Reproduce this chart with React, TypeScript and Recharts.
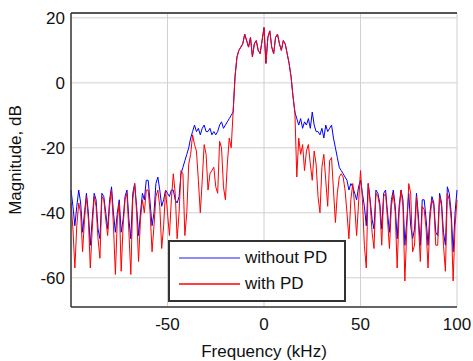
import { CartesianGrid, Line, LineChart, ReferenceLine, XAxis, YAxis } from "recharts"

// frequency grid, kHz
const freqKHz = Array.from({ length: 201 }, (_, i) => i - 100)

// magnitude in dB at 1 kHz steps (-100 .. 100)
const withoutPD = [
  -33, -38, -44, -38, -33, -37, -46, -40, -34, -40,
  -50, -42, -34, -36, -45, -48, -34, -35, -40, -45,
  -36, -32, -40, -46, -40, -36, -46, -42, -35, -33,
  -42, -48, -34, -31, -38, -47, -40, -34, -36, -30,
  -30, -37, -44, -40, -31, -29, -33, -38, -36, -33,
  -34, -35, -33, -33, -36, -37, -35, -28, -26, -24,
  -22, -20, -17, -15, -13, -15, -14, -16, -14, -13,
  -15, -15, -14, -16, -15, -16, -15, -13, -12, -14,
  -13, -12, -11, -10, -9, 2, 8, 10, 11, 12,
  15, 13, 11, 14, 8, 12, 13, 10, 9, 13,
  17, 6, 14, 16, 11, 9, 14, 15, 12, 10,
  13, 12, 9, 6, 2, -4, -9, -11, -13, -11,
  -14, -12, -13, -11, -14, -9, -13, -15, -15, -16,
  -14, -17, -13, -15, -14, -13, -17, -20, -23, -26,
  -27, -28, -29, -30, -33, -31, -32, -34, -36, -32,
  -30, -34, -38, -44, -31, -36, -42, -45, -33, -34,
  -37, -45, -34, -33, -40, -46, -36, -33, -38, -48,
  -38, -33, -36, -50, -42, -34, -44, -48, -45, -34,
  -41, -50, -36, -36, -42, -50, -40, -35, -37, -46,
  -47, -34, -37, -46, -50, -32, -34, -40, -52, -40,
  -33,
]

const withPD = [
  -37, -45, -57, -44, -37, -40, -52, -42, -35, -42,
  -57, -45, -35, -38, -48, -54, -35, -36, -42, -47,
  -38, -33, -44, -59, -42, -37, -58, -44, -36, -34,
  -46, -59, -36, -31, -40, -55, -42, -36, -40, -33,
  -33, -40, -52, -44, -35, -33, -38, -51, -44, -33,
  -40, -47, -36, -28, -34, -48, -40, -27, -28, -47,
  -40, -25, -22, -16, -19, -21, -30, -40, -30, -19,
  -22, -33, -28, -27, -26, -32, -34, -18, -20, -32,
  -36, -25, -17, -20, -9, 2, 8, 10, 11, 12,
  15, 13, 11, 14, 8, 12, 13, 10, 9, 13,
  17, 6, 14, 16, 11, 9, 14, 15, 12, 10,
  13, 12, 9, 6, 2, -4, -9, -29, -17, -22,
  -19, -27, -21, -19, -25, -30, -21, -25, -35, -40,
  -26, -22, -30, -38, -24, -23, -33, -43, -34, -29,
  -28, -29, -33, -40, -48, -36, -31, -38, -47, -37,
  -27, -36, -50, -57, -31, -37, -46, -51, -34, -35,
  -38, -50, -35, -34, -42, -51, -38, -34, -40, -57,
  -40, -33, -38, -61, -45, -31, -34, -52, -50, -35,
  -43, -55, -38, -39, -45, -57, -42, -36, -38, -50,
  -50, -35, -38, -50, -58, -34, -36, -42, -61, -44,
  -36,
]

const xTicks = [-100, -50, 0, 50, 100]
const yTicks = [-60, -40, -20, 0, 20]

const series = [
  { key: "noPD", name: "without PD", color: "#0000ff" },
  { key: "pd", name: "with PD", color: "#ff0000" },
]

const data = freqKHz.map((f, i) => ({ f, noPD: withoutPD[i], pd: withPD[i] }))

const font = "'Liberation Sans', Arial, sans-serif"
const Y_MIN = -69
const Y_MAX = 21.5

export default function App() {
  return (
    <div style={{ position: "absolute", left: 0, top: 0, width: 473, height: 361, background: "#fff", fontFamily: font }}>
      <LineChart width={473} height={361} data={data} margin={{ top: 13, right: 16, left: 0, bottom: 0 }}>
        <CartesianGrid stroke="#d0d0d0" strokeWidth={1} />
        <XAxis
          dataKey="f"
          type="number"
          domain={[-100, 100]}
          ticks={xTicks}
          tickFormatter={(v) => (v === -100 ? "" : `${v}`)}
          height={54}
          tickLine={false}
          tickSize={0}
          tickMargin={11}
          stroke="#3a3a3a"
          strokeWidth={1.5}
          tick={{ fill: "#111", fontSize: 17, fontFamily: font }}
          label={{ value: "Frequency (kHz)", position: "insideBottom", offset: 4, fill: "#111", fontSize: 17, fontFamily: font }}
        />
        <YAxis
          type="number"
          domain={[Y_MIN, Y_MAX]}
          ticks={yTicks}
          width={71}
          tickLine={false}
          tickSize={0}
          tickMargin={6}
          stroke="#3a3a3a"
          strokeWidth={1.5}
          allowDataOverflow
          tick={{ fill: "#111", fontSize: 17, fontFamily: font }}
          label={{
            value: "Magnitude, dB",
            angle: -90,
            position: "insideLeft",
            offset: 15,
            fill: "#111",
            fontSize: 17,
            fontFamily: font,
            style: { textAnchor: "middle" },
          }}
        />
        <ReferenceLine y={Y_MAX} stroke="#555" strokeWidth={2} />
        {series.map((s) => (
          <Line
            key={s.key}
            type="linear"
            dataKey={s.key}
            name={s.name}
            stroke={s.color}
            strokeWidth={1}
            dot={false}
            isAnimationActive={false}
          />
        ))}
      </LineChart>
      <div
        style={{
          position: "absolute",
          left: 168,
          top: 240,
          width: 178,
          height: 62,
          boxSizing: "border-box",
          border: "2px solid #333",
          background: "#fff",
          paddingTop: 3,
        }}
      >
        {series.map((s) => (
          <div key={s.key} style={{ display: "flex", alignItems: "center", height: 26 }}>
            <svg width={70} height={26} style={{ flex: "none" }}>
              <line x1={9} x2={70} y1={13} y2={13} stroke={s.color} strokeWidth={1.5} opacity={s.key === "noPD" ? 0.6 : 1} />
            </svg>
            <span style={{ marginLeft: 5, fontSize: 17, color: "#111", fontFamily: font }}>{s.name}</span>
          </div>
        ))}
      </div>
    </div>
  )
}
